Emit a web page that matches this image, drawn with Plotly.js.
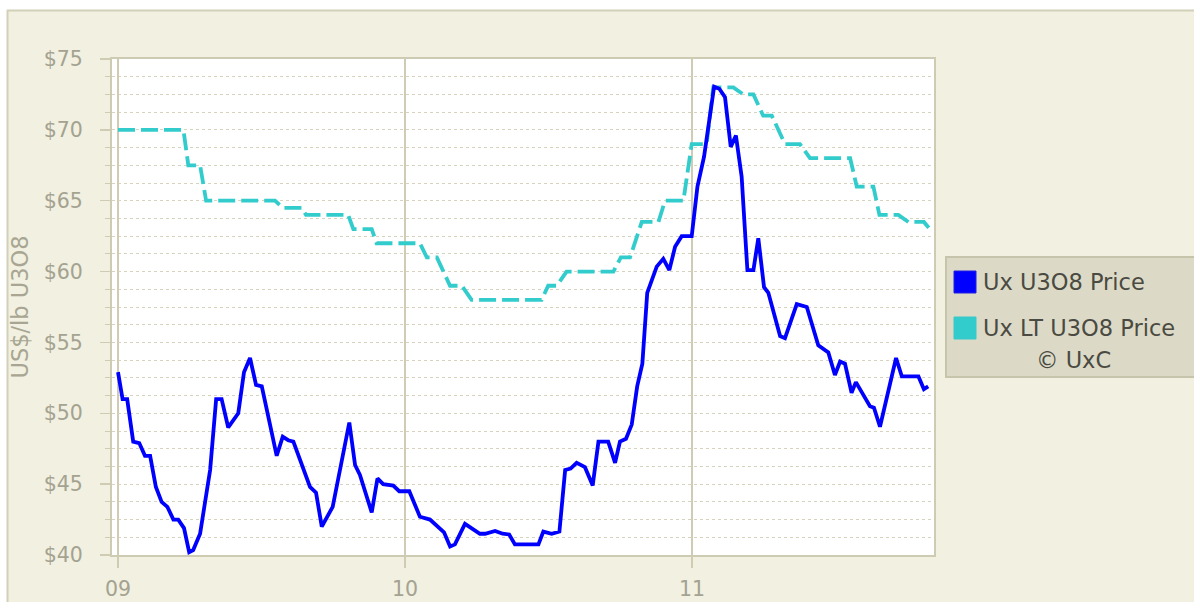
<!DOCTYPE html>
<html>
<head>
<meta charset="utf-8">
<script src="https://cdn.plot.ly/plotly-3.0.1.min.js"></script>
<style>
  html, body { margin: 0; padding: 0; background: #ffffff; }
  #chart { width: 1194px; height: 602px; }
</style>
</head>
<body>
<div id="chart"></div>
<script>
// ---- Data (decimal years, US$/lb) ----
const spotYears = [2009.000, 2009.016, 2009.032, 2009.053, 2009.074, 2009.094, 2009.112, 2009.132, 2009.152, 2009.172,
  2009.193, 2009.210, 2009.230, 2009.248, 2009.262, 2009.286, 2009.321, 2009.342, 2009.361, 2009.384,
  2009.419, 2009.439, 2009.460, 2009.481, 2009.501, 2009.553, 2009.574, 2009.593, 2009.611, 2009.669,
  2009.690, 2009.710, 2009.748, 2009.806, 2009.826, 2009.843, 2009.884, 2009.904, 2009.924, 2009.959,
  2009.980, 2010.015, 2010.052, 2010.087, 2010.136, 2010.157, 2010.174, 2010.209, 2010.261, 2010.279,
  2010.314, 2010.340, 2010.363, 2010.383, 2010.465, 2010.482, 2010.511, 2010.538, 2010.558, 2010.577,
  2010.598, 2010.627, 2010.654, 2010.674, 2010.708, 2010.732, 2010.749, 2010.770, 2010.790, 2010.809,
  2010.827, 2010.844, 2010.877, 2010.900, 2010.921, 2010.941, 2010.964, 2010.999, 2011.019, 2011.042,
  2011.077, 2011.095, 2011.115, 2011.135, 2011.153, 2011.173, 2011.193, 2011.214, 2011.231, 2011.251,
  2011.266, 2011.307, 2011.324, 2011.365, 2011.400, 2011.440, 2011.475, 2011.498, 2011.516, 2011.533,
  2011.556, 2011.571, 2011.620, 2011.634, 2011.655, 2011.711, 2011.731, 2011.789, 2011.808, 2011.823];
const spotPrice = [52.9, 51.0, 51.0, 48.0, 47.9, 47.0, 47.0, 44.8, 43.75, 43.4,
  42.5, 42.5, 41.9, 40.2, 40.35, 41.5, 46.0, 51.0, 51.0, 49.0,
  50.0, 52.9, 53.9, 52.0, 51.9, 47.0, 48.35, 48.1, 48.0, 44.8,
  44.4, 42.0, 43.4, 49.35, 46.35, 45.65, 43.0, 45.4, 45.0, 44.9,
  44.5, 44.5, 42.7, 42.5, 41.6, 40.6, 40.75, 42.2, 41.5, 41.5,
  41.7, 41.5, 41.45, 40.75, 40.75, 41.65, 41.5, 41.65, 46.0, 46.1,
  46.5, 46.2, 44.9, 48.0, 48.0, 46.5, 48.0, 48.2, 49.2, 51.9,
  53.5, 58.5, 60.35, 60.9, 60.1, 61.75, 62.5, 62.5, 66.0, 68.1,
  73.05, 72.9, 72.3, 68.8, 69.6, 66.7, 60.1, 60.1, 62.35, 58.9,
  58.5, 55.45, 55.3, 57.7, 57.5, 54.8, 54.3, 52.7, 53.65, 53.5,
  51.45, 52.2, 50.5, 50.4, 49.05, 53.9, 52.6, 52.6, 51.7, 51.9];

const ltYears = [2009.000, 2009.228, 2009.245, 2009.286, 2009.307, 2009.547, 2009.574, 2009.640, 2009.655, 2009.802,
  2009.820, 2009.884, 2009.901, 2010.052, 2010.076, 2010.111, 2010.157, 2010.198, 2010.232, 2010.476,
  2010.499, 2010.529, 2010.563, 2010.726, 2010.752, 2010.784, 2010.825, 2010.883, 2010.906, 2010.970,
  2010.999, 2011.051, 2011.074, 2011.144, 2011.179, 2011.214, 2011.248, 2011.278, 2011.324, 2011.376,
  2011.411, 2011.551, 2011.574, 2011.632, 2011.653, 2011.719, 2011.754, 2011.808, 2011.829];
const ltPrice = [70, 70, 67.5, 67.5, 65, 65, 64.5, 64.5, 64, 64,
  63, 63, 62, 62, 61, 61, 59, 59, 58, 58,
  59, 59, 60, 60, 61, 61, 63.5, 63.5, 65, 65,
  69, 69, 73, 73, 72.5, 72.5, 71, 71, 69, 69,
  68, 68, 66, 66, 64, 64, 63.5, 63.5, 63];

const xTickVals = [2009, 2010, 2011];
const xTickText = ['09', '10', '11'];
const seriesNames = ['Ux U3O8 Price', 'Ux LT U3O8 Price'];
const copyrightText = '© UxC';
const yTitle = 'US$/lb U3O8';

// ---- Layout geometry ----
const W = 1194, H = 602;
const M = { l: 112, r: 260, t: 59, b: 47 };
const pw = W - M.l - M.r, ph = H - M.t - M.b;
const px = p => (p - M.l) / pw;          // pixel x -> paper x
const py = p => (H - M.b - p) / ph;      // pixel y (from top) -> paper y

const colSpot = '#0000ff', colLT = '#33cccc';
const gridCol = '#cfccb3', minorGrid = '#d6d3bf', tickFont = '#a4a290';

const traces = [
  { x: ltYears, y: ltPrice, type: 'scatter', mode: 'lines', name: seriesNames[1],
    line: { color: colLT, width: 3.8, dash: '17px,6px' }, showlegend: false },
  { x: spotYears, y: spotPrice, type: 'scatter', mode: 'lines', name: seriesNames[0],
    line: { color: colSpot, width: 3.8 }, showlegend: false }
];

const shapes = [
  // white outside strips
  { type: 'rect', xref: 'paper', yref: 'paper', x0: px(-10), x1: px(W + 10), y0: py(10), y1: py(-10),
    fillcolor: '#ffffff', line: { width: 0 } },
  { type: 'rect', xref: 'paper', yref: 'paper', x0: px(-10), x1: px(7), y0: py(H + 10), y1: py(-10),
    fillcolor: '#ffffff', line: { width: 0 } },
  // panel border
  { type: 'line', xref: 'paper', yref: 'paper', x0: px(7), x1: px(W + 10), y0: py(10.5), y1: py(10.5),
    line: { color: '#d2d0b8', width: 2 } },
  { type: 'line', xref: 'paper', yref: 'paper', x0: px(7.5), x1: px(7.5), y0: py(10), y1: py(H + 10),
    line: { color: '#d2d0b8', width: 2 } },
  // legend box
  { type: 'rect', xref: 'paper', yref: 'paper', x0: px(946), x1: px(W + 20), y0: py(377), y1: py(257),
    fillcolor: '#dcdac6', line: { color: '#c6c4ab', width: 2 } },
  { type: 'rect', xref: 'paper', yref: 'paper', x0: px(954), x1: px(976), y0: py(293), y1: py(271),
    fillcolor: colSpot, line: { color: '#2020e0', width: 1 } },
  { type: 'rect', xref: 'paper', yref: 'paper', x0: px(954), x1: px(976), y0: py(339), y1: py(317),
    fillcolor: colLT, line: { color: '#3cc8c8', width: 1 } }
];

const legFont = { family: 'DejaVu Sans, Verdana, sans-serif', size: 22.5, color: '#4a4a42' };
const annotations = [
  { xref: 'paper', yref: 'paper', x: px(981), y: py(282), xanchor: 'left', yanchor: 'middle',
    text: seriesNames[0], showarrow: false, font: legFont },
  { xref: 'paper', yref: 'paper', x: px(981), y: py(328), xanchor: 'left', yanchor: 'middle',
    text: seriesNames[1], showarrow: false, font: legFont },
  { xref: 'paper', yref: 'paper', x: px(1073), y: py(360), xanchor: 'center', yanchor: 'middle',
    text: copyrightText, showarrow: false, font: legFont }
];

const layout = {
  width: W, height: H,
  margin: M,
  paper_bgcolor: '#f1f0e1',
  plot_bgcolor: '#ffffff',
  showlegend: false,
  font: { family: 'DejaVu Sans, Verdana, sans-serif', color: tickFont },
  xaxis: {
    range: [2009 + (M.l - 118) / 287, 2009 + (W - M.r - 118) / 287],
    tickvals: xTickVals, ticktext: xTickText,
    showgrid: true, gridcolor: gridCol, gridwidth: 1.5,
    ticks: 'outside', ticklen: 11, tickwidth: 1.5, tickcolor: gridCol,
    showline: true, linecolor: '#cdcbb2', linewidth: 2, mirror: true,
    zeroline: false,
    ticklabelstandoff: 3,
    tickfont: { size: 20.5, color: tickFont }
  },
  yaxis: {
    range: [40, 75], tick0: 40, dtick: 5, tickprefix: '$',
    showgrid: true, gridcolor: minorGrid, gridwidth: 1, griddash: 'dot',
    ticks: 'outside', ticklen: 10, tickwidth: 1.5, tickcolor: gridCol,
    minor: { dtick: 1.25, tick0: 40, showgrid: true, gridcolor: minorGrid, griddash: 'dot', gridwidth: 1,
             ticks: 'outside', ticklen: 5, tickcolor: gridCol, tickwidth: 1 },
    showline: true, linecolor: '#cdcbb2', linewidth: 2, mirror: true,
    zeroline: false,
    ticklabelstandoff: 13,
    tickfont: { size: 20.5, color: tickFont },
    title: { text: yTitle, standoff: 9, font: { size: 22.5, color: '#a8a692' } }
  },
  shapes: shapes,
  annotations: annotations
};

Plotly.newPlot('chart', traces, layout, { staticPlot: true, displayModeBar: false });
</script>
</body>
</html>
